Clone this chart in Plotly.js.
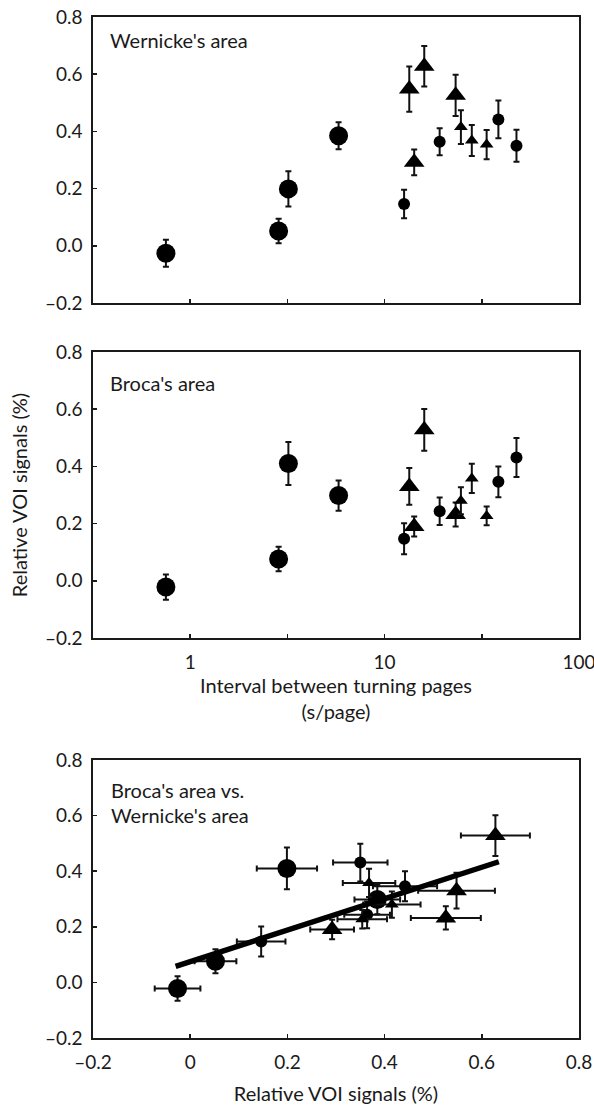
<!DOCTYPE html>
<html><head><meta charset="utf-8">
<script src="https://cdn.plot.ly/plotly-3.0.1.min.js"></script>
<style>html,body{margin:0;padding:0;background:#fff}#chart{width:594px;height:1106px}</style>
</head><body><div id="chart"></div>
<script>
// Interval between turning pages (s/page)
const intervalBigCircle = [0.75, 2.85, 3.2, 5.8];
const intervalSmallCircle = [12.6, 19.2, 38.5, 47.7];
const intervalBigTriangle = [13.4, 16.0, 14.2, 23.2];
const intervalSmallTriangle = [24.7, 28.1, 33.5];

// Wernicke's area: relative VOI signals (%) and error
const wernickeBigCircle = [-0.026, 0.052, 0.199, 0.385];
const wernickeBigCircleErr = [0.047, 0.043, 0.062, 0.047];
const wernickeSmallCircle = [0.146, 0.364, 0.442, 0.35];
const wernickeSmallCircleErr = [0.05, 0.047, 0.066, 0.056];
const wernickeBigTriangle = [0.548, 0.628, 0.292, 0.526];
const wernickeBigTriangleErr = [0.079, 0.071, 0.045, 0.072];
const wernickeSmallTriangle = [0.415, 0.368, 0.354];
const wernickeSmallTriangleErr = [0.059, 0.054, 0.051];

// Broca's area: relative VOI signals (%) and error
const brocaBigCircle = [-0.022, 0.076, 0.41, 0.298];
const brocaBigCircleErr = [0.044, 0.043, 0.075, 0.053];
const brocaSmallCircle = [0.147, 0.243, 0.346, 0.431];
const brocaSmallCircleErr = [0.054, 0.048, 0.054, 0.068];
const brocaBigTriangle = [0.33, 0.528, 0.19, 0.232];
const brocaBigTriangleErr = [0.064, 0.073, 0.035, 0.042];
const brocaSmallTriangle = [0.28, 0.358, 0.227];
const brocaSmallTriangleErr = [0.047, 0.051, 0.033];

// regression line (Broca vs. Wernicke)
const fitX = [-0.03, 0.635];
const fitY = [0.058, 0.434];

// tick labels
const yTickVals = [-0.2, 0, 0.2, 0.4, 0.6, 0.8];
const yTickText = ['\u20130.2', '0.0', '0.2', '0.4', '0.6', '0.8'];
const xLogTickVals = [1, 3.1623, 10, 31.623, 100];
const xLogTickText = ['1', '', '10', '', '100'];
const xLinTickVals = [-0.2, 0, 0.2, 0.4, 0.6, 0.8];
const xLinTickText = ['\u20130.2', '0', '0.2', '0.4', '0.6', '0.8'];

const INK = '#111';
const TXT = '#1a1a1a';
const FONT = 'Lato, "Open Sans", sans-serif';
const TICKSIZE = 19, TEXTSIZE = 20;
const BIG = 19, SMALL = 12, BIGTRI = 18, SMALLTRI = 12;

function pts(xa, ya, x, y, ey, symbol, size, ex) {
  const t = {
    type: 'scatter', mode: 'markers', xaxis: xa, yaxis: ya, x: x, y: y,
    marker: {symbol: symbol, size: size, color: '#000', line: {width: 0}},
    error_y: {type: 'data', array: ey, visible: true, color: INK, thickness: 2, width: 3},
    showlegend: false, hoverinfo: 'x+y'
  };
  if (ex) t.error_x = {type: 'data', array: ex, visible: true, color: INK, thickness: 2, width: 3};
  return t;
}

const data = [
  // Wernicke panel
  pts('x', 'y', intervalBigCircle, wernickeBigCircle, wernickeBigCircleErr, 'circle', BIG),
  pts('x', 'y', intervalSmallCircle, wernickeSmallCircle, wernickeSmallCircleErr, 'circle', SMALL),
  pts('x', 'y', intervalBigTriangle, wernickeBigTriangle, wernickeBigTriangleErr, 'triangle-up', BIGTRI),
  pts('x', 'y', intervalSmallTriangle, wernickeSmallTriangle, wernickeSmallTriangleErr, 'triangle-up', SMALLTRI),
  // Broca panel
  pts('x2', 'y2', intervalBigCircle, brocaBigCircle, brocaBigCircleErr, 'circle', BIG),
  pts('x2', 'y2', intervalSmallCircle, brocaSmallCircle, brocaSmallCircleErr, 'circle', SMALL),
  pts('x2', 'y2', intervalBigTriangle, brocaBigTriangle, brocaBigTriangleErr, 'triangle-up', BIGTRI),
  pts('x2', 'y2', intervalSmallTriangle, brocaSmallTriangle, brocaSmallTriangleErr, 'triangle-up', SMALLTRI),
  // Broca vs Wernicke
  pts('x3', 'y3', wernickeBigCircle, brocaBigCircle, brocaBigCircleErr, 'circle', BIG, wernickeBigCircleErr),
  pts('x3', 'y3', wernickeSmallCircle, brocaSmallCircle, brocaSmallCircleErr, 'circle', SMALL, wernickeSmallCircleErr),
  pts('x3', 'y3', wernickeBigTriangle, brocaBigTriangle, brocaBigTriangleErr, 'triangle-up', BIGTRI, wernickeBigTriangleErr),
  pts('x3', 'y3', wernickeSmallTriangle, brocaSmallTriangle, brocaSmallTriangleErr, 'triangle-up', SMALLTRI, wernickeSmallTriangleErr),
  {type: 'scatter', mode: 'lines', xaxis: 'x3', yaxis: 'y3', x: fitX, y: fitY,
   line: {color: '#000', width: 5.5}, showlegend: false, hoverinfo: 'skip'}
];

const W = 594, H = 1106;
const xDom = [93 / W, 579 / W];
function yDom(top, bottom) { return [1 - bottom / H, 1 - top / H]; }

function axis(extra) {
  return Object.assign({
    showline: true, mirror: true, linecolor: TXT, linewidth: 1.6,
    ticks: 'inside', ticklen: 4, tickwidth: 1.5, tickcolor: TXT,
    showgrid: false, zeroline: false, ticklabeloverflow: 'allow',
    tickfont: {family: FONT, size: TICKSIZE, color: TXT}
  }, extra);
}

const yCommon = {range: [-0.2, 0.8], tickmode: 'array', tickvals: yTickVals, ticktext: yTickText, ticklabelstandoff: 5};
const logRange = [-0.5, 2.0002];

const layout = {
  width: W, height: H, autosize: false,
  margin: {l: 0, r: 0, t: 0, b: 0, pad: 0},
  paper_bgcolor: '#fff', plot_bgcolor: '#fff',
  font: {family: FONT, color: TXT},
  xaxis: axis({type: 'log', range: logRange, domain: xDom, anchor: 'y',
    tickmode: 'array', tickvals: xLogTickVals, ticktext: xLogTickText, showticklabels: false}),
  yaxis: axis(Object.assign({domain: yDom(17, 303), anchor: 'x'}, yCommon)),
  xaxis2: axis({type: 'log', range: logRange, domain: xDom, anchor: 'y2',
    tickmode: 'array', tickvals: xLogTickVals, ticktext: xLogTickText, ticklabelstandoff: 7,
    title: {text: 'Interval between turning pages<br>(s/page)', font: {family: FONT, size: TEXTSIZE, color: TXT}, standoff: 6}}),
  yaxis2: axis(Object.assign({domain: yDom(352, 638), anchor: 'x2',
    title: {text: 'Relative VOI signals (%)', font: {family: FONT, size: TEXTSIZE, color: TXT}, standoff: 12}}, yCommon)),
  xaxis3: axis({range: [-0.2, 0.8], domain: xDom, anchor: 'y3',
    tickmode: 'array', tickvals: xLinTickVals, ticktext: xLinTickText, ticklabelstandoff: 7,
    title: {text: 'Relative VOI signals (%)', font: {family: FONT, size: TEXTSIZE, color: TXT}, standoff: 14}}),
  yaxis3: axis(Object.assign({domain: yDom(760, 1038), anchor: 'x3'}, yCommon)),
  annotations: [
    {text: "Wernicke's area", xref: 'paper', yref: 'paper', x: 108 / W, y: 1 - 40 / H,
     xanchor: 'left', yanchor: 'middle', showarrow: false, font: {family: FONT, size: TEXTSIZE, color: TXT}},
    {text: "Broca's area", xref: 'paper', yref: 'paper', x: 108 / W, y: 1 - 383 / H,
     xanchor: 'left', yanchor: 'middle', showarrow: false, font: {family: FONT, size: TEXTSIZE, color: TXT}},
    {text: "Broca's area vs.", xref: 'paper', yref: 'paper', x: 109 / W, y: 1 - 790 / H,
     xanchor: 'left', yanchor: 'middle', showarrow: false, font: {family: FONT, size: TEXTSIZE, color: TXT}},
    {text: "Wernicke's area", xref: 'paper', yref: 'paper', x: 109 / W, y: 1 - 815 / H,
     xanchor: 'left', yanchor: 'middle', showarrow: false, font: {family: FONT, size: TEXTSIZE, color: TXT}}
  ]
};

Plotly.newPlot('chart', data, layout, {displayModeBar: false, staticPlot: true});
</script>
</body></html>
